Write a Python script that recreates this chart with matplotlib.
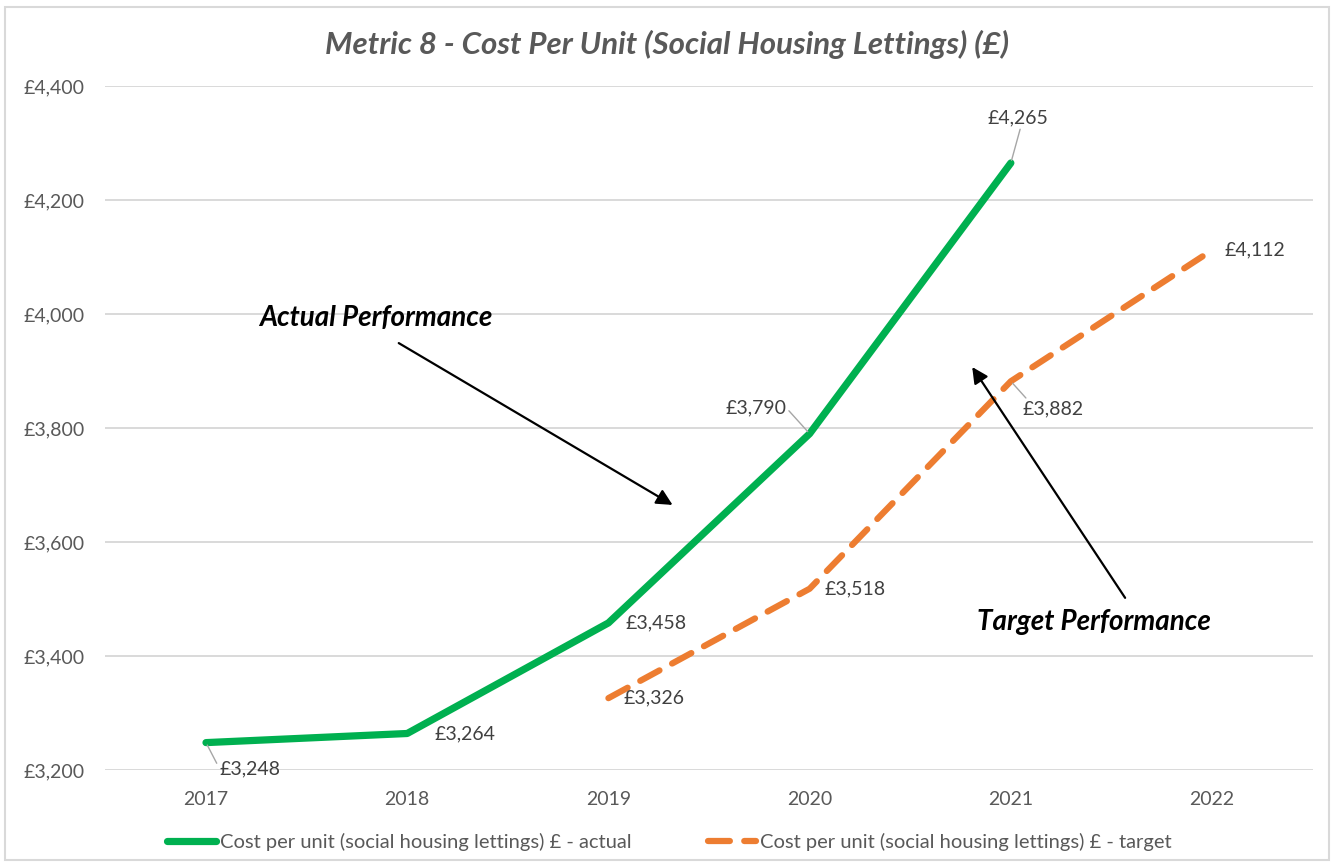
import matplotlib
matplotlib.use("Agg")
import matplotlib.pyplot as plt
from matplotlib.patches import Rectangle
from matplotlib.ticker import FuncFormatter

# data
years = ["2017", "2018", "2019", "2020", "2021", "2022"]
actual = [3248, 3264, 3458, 3790, 4265]
target = [3326, 3518, 3882, 4112]
target_start = 2  # target series begins at 2019

actual_name = "Cost per unit (social housing lettings) £ - actual"
target_name = "Cost per unit (social housing lettings) £ - target"

plt.rcParams['font.family'] = ['Lato', 'DejaVu Sans']

GREEN = "#00B050"
ORANGE = "#ED7D31"
GREY_TXT = "#595959"
LABEL_TXT = "#404040"
GRID = "#D9D9D9"

fig = plt.figure(figsize=(13.34, 8.63), dpi=100)
ax = fig.add_axes([0.079, 0.1078, 0.905, 0.7925])

# chart border like excel
fig.patches.append(Rectangle((0.004, 0.004), 0.992, 0.988, transform=fig.transFigure,
                             fill=False, edgecolor=GRID, lw=1.5))

x_act = list(range(len(actual)))
x_tgt = list(range(target_start, target_start + len(target)))

ax.plot(x_act, actual, color=GREEN, lw=5.2, solid_capstyle='round',
        solid_joinstyle='round', label=actual_name, zorder=3)
ax.plot(x_tgt, target, color=ORANGE, lw=4.5, dashes=(3.5, 2.3),
        dash_capstyle='round', label=target_name, zorder=3)

ax.set_xlim(-0.5, len(years) - 0.5)
ax.set_ylim(3200, 4400)
ax.set_xticks(range(len(years)))
ax.set_xticklabels(years)
ax.set_yticks(range(3200, 4401, 200))
ax.yaxis.set_major_formatter(FuncFormatter(lambda v, p: f"£{int(v):,}"))
ax.tick_params(length=0, labelsize=14, colors=GREY_TXT)
ax.tick_params(axis='x', pad=15)
ax.tick_params(axis='y', pad=15)
ax.grid(axis='y', color=GRID, lw=1.4)
ax.set_axisbelow(True)
for s in ax.spines.values():
    s.set_visible(False)

# data labels: value text next to point, optional leader line
def data_label(x, y, dx, dy, leader=False, relpos=(0, 0.5)):
    kw = {}
    if leader:
        kw['arrowprops'] = dict(arrowstyle='-', color='#A6A6A6', lw=1,
                                shrinkA=0, shrinkB=2, relpos=relpos)
    ax.annotate(f"£{y:,}", xy=(x, y), xytext=(dx, dy), textcoords='offset pixels',
                ha='center', va='center', fontsize=14, color=LABEL_TXT, **kw)

act_offsets = [(44, -26, True, (0, 0.5)), (58, 0, False, None), (48, 0, False, None),
               (-54, 26, True, (1, 0.5)), (7, 45, True, (0.55, 0))]
for xi, yi, (dx, dy, ld, rp) in zip(x_act, actual, act_offsets):
    data_label(xi, yi, dx, dy, ld, rp)

tgt_offsets = [(46, 0, False, None), (45, 0, False, None),
               (42, -28, True, (0.1, 1)), (43, 0, False, None)]
for xi, yi, (dx, dy, ld, rp) in zip(x_tgt, target, tgt_offsets):
    data_label(xi, yi, dx, dy, ld, rp)

# callouts
ax.text(0.844, 3993, "Actual Performance", fontsize=20, fontweight='bold',
        fontstyle='italic', ha='center', va='center', color='black')
ax.annotate("", xy=(2.319, 3665), xytext=(0.958, 3949),
            arrowprops=dict(arrowstyle='-|>', color='black', lw=1.6,
                            mutation_scale=24, shrinkA=0, shrinkB=0))
ax.text(4.414, 3460, "Target Performance", fontsize=20, fontweight='bold',
        fontstyle='italic', ha='center', va='center', color='black')
ax.annotate("", xy=(3.808, 3907), xytext=(4.568, 3502),
            arrowprops=dict(arrowstyle='-|>', color='black', lw=1.6,
                            mutation_scale=24, shrinkA=0, shrinkB=0))

fig.text(0.5, 0.948, "Metric 8 - Cost Per Unit (Social Housing Lettings) (£)",
         ha='center', va='center', fontsize=22.5, fontweight='bold',
         fontstyle='italic', color=GREY_TXT)

fig.legend(loc='center', bbox_to_anchor=(0.502, 0.024), ncol=2, frameon=False,
           fontsize=14.5, handlelength=2.4, handletextpad=0.2, columnspacing=3.8,
           labelcolor=GREY_TXT)

fig.savefig("out.png", dpi=100, facecolor='white')
